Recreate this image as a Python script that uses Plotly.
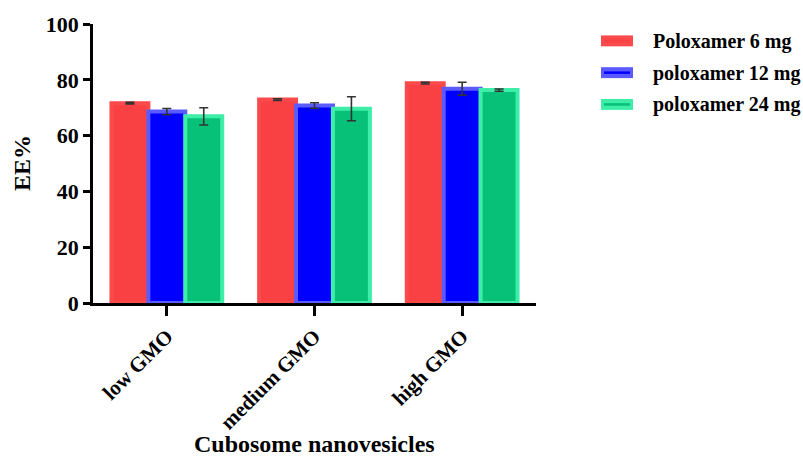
import plotly.graph_objects as go

# Encapsulation efficiency of cubosome formulations
categories = ["low GMO", "medium GMO", "high GMO"]
series_names = ["Poloxamer 6 mg", "poloxamer 12 mg", "poloxamer 24 mg"]
ee_p6 = [71.6, 72.9, 78.8]
ee_p12 = [68.6, 70.8, 76.8]
ee_p24 = [66.9, 69.6, 76.3]
sd_p6 = [0.3, 0.3, 0.3]
sd_p12 = [1.1, 1.0, 2.3]
sd_p24 = [3.1, 4.3, 0.4]
y_ticks = [0, 20, 40, 60, 80, 100]

fills = ["#F94144", "#0000FF", "#08C178"]
edges = ["#FB4A4C", "#5A5AFF", "#3DEDA8"]

values = [ee_p6, ee_p12, ee_p24]
errors = [sd_p6, sd_p12, sd_p24]

FONT = "Liberation Serif, Times New Roman, serif"

fig = go.Figure()
for name, vals, errs, fc, ec in zip(series_names, values, errors, fills, edges):
    fig.add_trace(go.Bar(
        x=categories, y=vals, name=name,
        marker=dict(color=fc, line=dict(color=ec, width=4)),
        error_y=dict(type="data", array=errs, visible=True,
                     color="#333333", thickness=1.6, width=4.5),
        showlegend=False,
    ))

W, H = 803, 461
ml, mr, mt, mb = 93, 267, 22, 158

fig.update_layout(
    width=W, height=H,
    margin=dict(l=ml, r=mr, t=mt, b=mb),
    paper_bgcolor="white", plot_bgcolor="white",
    barmode="group", bargap=0.25, bargroupgap=0,
    font=dict(family=FONT, size=21, color="black"),
    xaxis=dict(
        showline=True, linecolor="black", linewidth=2.5,
        ticks="outside", ticklen=10, tickwidth=2.5, tickcolor="black",
        tickangle=-45, tickvals=categories,
        ticktext=[f"<b>{c}</b>" for c in categories],
        tickfont=dict(family=FONT, size=21, color="black"),
        range=[-0.5, 2.5],
    ),
    yaxis=dict(
        range=[0, 100], tickvals=y_ticks,
        ticktext=[f"<b>{v}</b>" for v in y_ticks],
        showline=True, linecolor="black", linewidth=2.5,
        ticks="outside", ticklen=7, tickwidth=2.5, tickcolor="black",
        showgrid=False, zeroline=False,
        tickfont=dict(family=FONT, size=22, color="black"),
    ),
)


def px_x(p):
    return (p - ml) / (W - ml - mr)


def px_y(p):
    return (H - mb - p) / (H - mt - mb)


# Axis titles
fig.add_annotation(text="<b>EE%</b>", xref="paper", yref="paper",
                   x=px_x(22), y=px_y(162), xanchor="center", yanchor="middle",
                   textangle=-90, showarrow=False,
                   font=dict(family=FONT, size=24, color="black"))
fig.add_annotation(text="<b>Cubosome nanovesicles</b>", xref="paper", yref="paper",
                   x=px_x(314), y=px_y(460), xanchor="center", yanchor="bottom",
                   showarrow=False, font=dict(family=FONT, size=24, color="black"))

# Legend: swatch (edge colour with inner fill stroke) and label per series
for i, (name, fc, ec) in enumerate(zip(series_names, fills, edges)):
    cy = 39 + 32 * i
    fig.add_shape(type="rect", xref="paper", yref="paper",
                  x0=px_x(601), x1=px_x(633), y0=px_y(cy - 5.5), y1=px_y(cy + 5.5),
                  fillcolor=ec, line=dict(width=0))
    fig.add_shape(type="line", xref="paper", yref="paper",
                  x0=px_x(604), x1=px_x(630), y0=px_y(cy), y1=px_y(cy),
                  line=dict(color=fc, width=2.5))
    fig.add_annotation(text=f"<b>{name}</b>", xref="paper", yref="paper",
                       x=px_x(651), y=px_y(cy + 0.5), xanchor="left", yanchor="middle",
                       showarrow=False, font=dict(family=FONT, size=20, color="black"))

fig.write_html("out.html")
